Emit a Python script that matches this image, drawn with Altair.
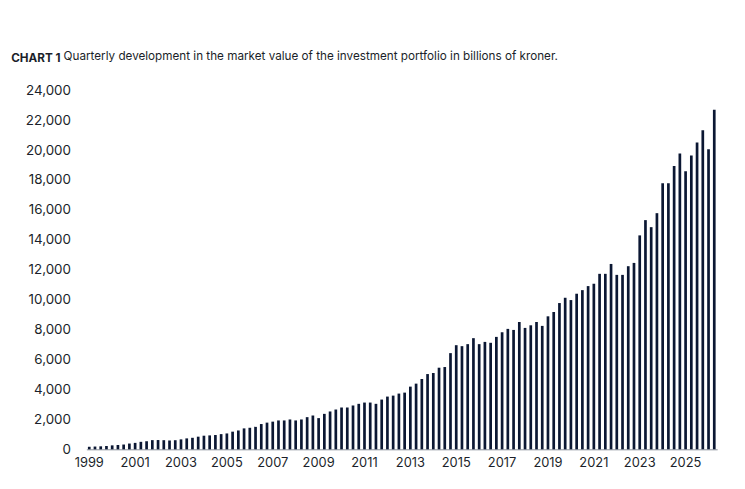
import altair as alt
import pandas as pd

# Quarterly market value, billions of kroner (1999 Q1 onward)
values = [
    170, 185, 200, 222,
    264, 290, 320, 386,
    430, 500, 540, 614,
    620, 610, 590, 609,
    665, 730, 770, 845,
    910, 930, 955, 1016,
    1060, 1180, 1260, 1399,
    1440, 1500, 1690, 1784,
    1850, 1930, 1930, 1995,
    1930, 1995, 2150, 2260,
    2085, 2370, 2530, 2660,
    2795, 2795, 2930, 3040,
    3125, 3125, 3040, 3325,
    3525, 3590, 3725, 3790,
    4190, 4390, 4700, 5030,
    5100, 5455, 5500, 6430,
    6960, 6895, 7030, 7430,
    7030, 7180, 7120, 7515,
    7825, 8050, 7980, 8510,
    8115, 8290, 8510, 8250,
    8890, 9180, 9777, 10130,
    9976, 10400, 10640, 10910,
    11060, 11730, 11730, 12390,
    11660, 11660, 12240, 12460,
    14300, 15320, 14850, 15785,
    17780, 17780, 18930, 19775,
    18580, 19640, 20510, 21330,
    20065, 22700,
]
start_year = 1999
quarters = [f"{start_year + i // 4} Q{i % 4 + 1}" for i in range(len(values))]
tick_years = list(range(1999, 2026, 2))
tick_values = [f"{y} Q1" for y in tick_years]
y_ticks = list(range(0, 24001, 2000))

df = pd.DataFrame({"quarter": quarters, "value": values})

TEXT = "#1b1f2a"
BAR = "#0b1733"

bars = alt.Chart(df).mark_bar(color=BAR).encode(
    x=alt.X(
        "quarter:N",
        sort=None,
        scale=alt.Scale(paddingInner=0.53, paddingOuter=0.27),
        axis=alt.Axis(
            title=None,
            values=tick_values,
            labelExpr="slice(datum.value, 0, 4)",
            labelAngle=0,
            ticks=False,
            domainColor="#8a8f99",
            domainWidth=1,
            labelFont="Inter",
            labelFontSize=13,
            labelColor=TEXT,
            labelPadding=7,
            grid=False,
        ),
    ),
    y=alt.Y(
        "value:Q",
        scale=alt.Scale(domain=[0, 24000], nice=False),
        axis=alt.Axis(
            title=None,
            values=y_ticks,
            format=",d",
            grid=False,
            domain=False,
            ticks=False,
            labelFont="Inter",
            labelFontSize=13.5,
            labelColor=TEXT,
            labelPadding=16,
        ),
    ),
)

label = alt.Chart(pd.DataFrame({"t": ["CHART 1"]})).mark_text(
    align="right",
    baseline="middle",
    font="Inter",
    fontSize=11.8,
    fontWeight="bold",
    color=TEXT,
).encode(x=alt.value(-26), y=alt.value(-32), text="t:N")

chart = alt.layer(bars, label).properties(
    width=636,
    height=362,
    title=alt.TitleParams(
        text="Quarterly development in the market value of the investment portfolio in billions of kroner.",
        anchor="start",
        frame="group",
        dx=-23,
        dy=40,
        offset=26,
        font="Inter",
        fontSize=11.8,
        fontWeight="normal",
        color=TEXT,
        baseline="middle",
    ),
    autosize=alt.AutoSizeParams(type="none"),
    padding={"left": 79, "top": 81, "right": 20, "bottom": 30},
).configure(
    background="white",
    view=alt.ViewConfig(stroke="transparent", strokeWidth=0),
)

chart.save("out.html", embed_options={"renderer": "svg", "actions": False})
